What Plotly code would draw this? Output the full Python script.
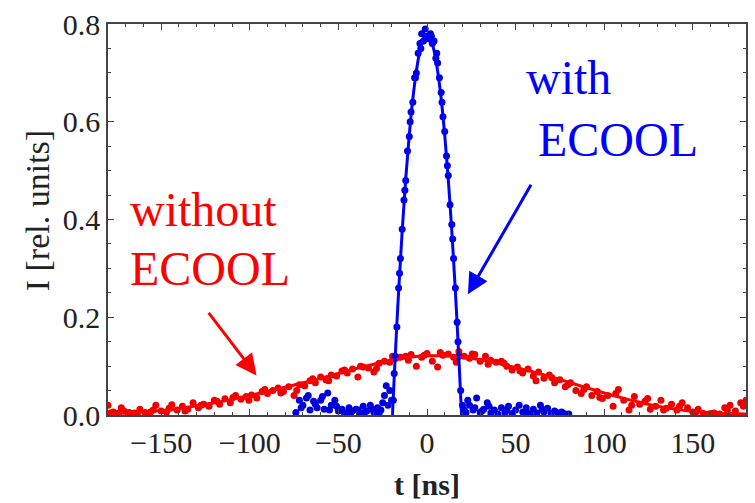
import plotly.graph_objects as go

# ---------------- data ----------------
# Red: without ECOOL (measured points, every 3 ns)
red_t = list(range(-180, 181, 3))
red_I = [0.020, 0.006, 0.004, 0.008, 0.005, 0.004, 0.012, 0.005, 0.006, 0.020,
         0.008, 0.006, 0.021, 0.010, 0.018, 0.012, 0.025, 0.015, 0.022, 0.018,
         0.030, 0.022, 0.033, 0.025, 0.040, 0.032, 0.038, 0.041, 0.035, 0.048,
         0.044, 0.050, 0.055, 0.048, 0.058, 0.040, 0.062, 0.060, 0.070, 0.066,
         0.078, 0.072, 0.082, 0.080, 0.090, 0.086, 0.094, 0.078, 0.098, 0.096,
         0.088, 0.106, 0.110, 0.108, 0.115, 0.118, 0.120, 0.124, 0.100, 0.118,
         0.126, 0.110, 0.098, 0.122, 0.125, 0.118, 0.130, 0.120, 0.116, 0.124,
         0.110, 0.120, 0.112, 0.108, 0.110, 0.100, 0.092, 0.098, 0.086, 0.094,
         0.080, 0.088, 0.075, 0.082, 0.066, 0.072, 0.058, 0.066, 0.050, 0.044,
         0.058, 0.040, 0.048, 0.034, 0.040, 0.018, 0.052, 0.030, 0.010, 0.038,
         0.022, 0.028, 0.012, 0.018, 0.030, 0.014, 0.022, 0.010, 0.025, 0.015,
         0.006, 0.012, 0.003, 0.002, 0.004, 0.002, 0.015, 0.020, 0.008, 0.025,
         0.030]

# Red: extra measured points (second sweep, offset by 1.5 ns)
red_t2 = [-178.5, -172.5, -163.5, -154.5, -145.5, -136.5, -127.5, -118.5, -109.5,
          -100.5, -91.5, -82.5, -73.5, -64.5, -55.5, -46.5, -37.5, -28.5, -19.5,
          -10.5, -1.5, 7.5, 16.5, 25.5, 34.5, 43.5, 52.5, 61.5, 70.5, 79.5, 88.5,
          97.5, 106.5, 115.5, 124.5, 133.5, 142.5, 151.5, 160.5, 169.5, 178.5]
red_I2 = [0.004, 0.015, 0.003, 0.010, 0.014, 0.008, 0.020, 0.028, 0.036,
          0.030, 0.052, 0.045, 0.050, 0.074, 0.070, 0.092, 0.100, 0.095, 0.120,
          0.112, 0.122, 0.128, 0.108, 0.125, 0.104, 0.106, 0.090, 0.070, 0.076,
          0.062, 0.052, 0.036, 0.044, 0.020, 0.034, 0.010, 0.018, 0.004, 0.003,
          0.010, 0.018]

# Red fit curve
red_fit_t = list(range(-180, 181, 10))
red_fit_I = [0.003, 0.004, 0.006, 0.009, 0.013, 0.019, 0.025, 0.032, 0.040, 0.048,
             0.057, 0.066, 0.075, 0.085, 0.095, 0.104, 0.112, 0.118, 0.121, 0.121,
             0.118, 0.113, 0.106, 0.097, 0.088, 0.078, 0.067, 0.056, 0.045, 0.035,
             0.026, 0.018, 0.012, 0.007, 0.004, 0.003, 0.002]

# Blue: with ECOOL (measured points)
blue_t = [-74, -72, -70, -68, -66, -64, -62, -60, -58, -56, -54, -52, -50, -48,
          -46, -44, -42, -40, -38, -36, -34, -32, -30, -28, -26, -24, -23, -22,
          -21, -20, -19, -18, -17, -16, -15, -14, -13, -12, -11, -10, -9, -8,
          -7, -6, -5, -4, -3, -2, -1, 0, 1, 2, 3, 4, 5, 6, 7, 8, 9, 10, 11,
          12, 13, 14, 15, 16, 17, 18, 19, 20, 21, 22, 24, 26, 28, 30, 32, 34,
          36, 38, 40, 42, 44, 46, 48, 50, 52, 54, 56, 58, 60, 62, 64, 66, 68,
          70, 72, 74, 76, 78, 80]
blue_I = [0.005, 0.030, 0.020, 0.035, 0.010, 0.028, 0.015, 0.030, 0.012, 0.045,
          0.020, 0.030, 0.008, 0.012, 0.005, 0.015, 0.008, 0.012, 0.004, 0.018,
          0.008, 0.020, 0.006, 0.015, 0.010, 0.040, 0.060, 0.020,
          0.050, 0.030, 0.030, 0.120, 0.180, 0.260, 0.320, 0.380, 0.440, 0.480,
          0.540, 0.570, 0.620, 0.640, 0.690, 0.700, 0.740, 0.760, 0.780, 0.765,
          0.790, 0.775, 0.770, 0.780, 0.760, 0.765, 0.730, 0.720, 0.690, 0.660,
          0.610, 0.580, 0.530, 0.490, 0.430, 0.390, 0.320, 0.260, 0.190, 0.120,
          0.050, 0.020, 0.010, 0.005, 0.020, 0.010, 0.035, 0.005, 0.012, 0.025,
          0.004, 0.010, 0.002, 0.015, 0.005, 0.018, 0.003, 0.010, 0.020, 0.006,
          0.015, 0.003, 0.012, 0.004, 0.020, 0.006, 0.014, 0.003, 0.008, 0.004,
          0.006, 0.002, 0.002]

# Blue: extra measured points (second sweep)
blue_t2 = [-71, -67, -63, -59, -55, -51, -47, -43, -39, -35, -31, -27, -25,
           -18.5, -15.5, -12.5, -9.5, -6.5, -3.5, -0.5, 2.5, 5.5, 8.5, 11.5, 14.5,
           17.5, 23, 27, 31, 35, 45, 55, 65]
blue_I2 = [0.015, 0.040, 0.022, 0.038, 0.010, 0.018, 0.006, 0.004, 0.010, 0.006,
           0.012, 0.004, 0.025,
           0.085, 0.290, 0.460, 0.600, 0.690, 0.750, 0.770, 0.775, 0.740, 0.640,
           0.510, 0.360, 0.150, 0.030, 0.015, 0.008, 0.018, 0.010, 0.004, 0.012]

# Blue fit curve
blue_fit_t = [-19.5, -18, -16, -14, -12, -10, -8, -6, -4, -2, 0,
              2, 4, 6, 8, 10, 12, 14, 16, 18, 19.5]
blue_fit_I = [0.0, 0.115, 0.254, 0.377, 0.483, 0.573, 0.647, 0.704, 0.745, 0.770, 0.778,
              0.770, 0.745, 0.704, 0.647, 0.573, 0.483, 0.377, 0.254, 0.115, 0.0]

x_ticks = [-150, -100, -50, 0, 50, 100, 150]
y_ticks = [0.0, 0.2, 0.4, 0.6, 0.8]

RED = "#ff0000"
BLUE = "#0000ff"
FONT = "Liberation Serif"
AXC = "#444444"

fig = go.Figure()
fig.add_trace(go.Scatter(x=red_t + red_t2, y=red_I + red_I2, mode="markers",
                         marker=dict(color="#ee0000", size=7), showlegend=False))
fig.add_trace(go.Scatter(x=blue_t + blue_t2, y=blue_I + blue_I2, mode="markers",
                         marker=dict(color="#0000dd", size=7), showlegend=False))
fig.add_trace(go.Scatter(x=red_fit_t, y=red_fit_I, mode="lines",
                         line=dict(color=RED, width=3, shape="spline"), showlegend=False))
fig.add_trace(go.Scatter(x=blue_fit_t, y=blue_fit_I, mode="lines",
                         line=dict(color=BLUE, width=3, shape="spline"), showlegend=False))

L, R, T, B = 108, 7, 20, 88
W, H = 755, 503
pw, ph = W - L - R, H - T - B

def px(x):
    return (x - L) / pw

def py(y):
    return (H - B - y) / ph

annots = [
    dict(text="with", x=px(525), y=py(74), color=BLUE),
    dict(text="ECOOL", x=px(537), y=py(137), color=BLUE),
    dict(text="without", x=px(128), y=py(207), color=RED),
    dict(text="ECOOL", x=px(128), y=py(267), color=RED),
]
for a in annots:
    fig.add_annotation(text=a["text"], x=a["x"], y=a["y"], xref="paper", yref="paper",
                       xanchor="left", yanchor="middle", showarrow=False,
                       font=dict(family=FONT, size=48, color=a["color"]))

# y-axis title as rotated text
fig.add_annotation(text="I [rel. units]", x=px(37), y=py(209), xref="paper", yref="paper",
                   xanchor="center", yanchor="middle", showarrow=False, textangle=-90,
                   font=dict(family=FONT, size=34, color="#222222"))

# arrows
fig.add_annotation(x=px(469), y=py(293), xref="paper", yref="paper", text="",
                   showarrow=True, ax=64, ay=-111, arrowcolor=BLUE, arrowwidth=3,
                   arrowhead=2, arrowsize=1.4, standoff=0)
fig.add_annotation(x=px(257), y=py(375), xref="paper", yref="paper", text="",
                   showarrow=True, ax=-49, ay=-64, arrowcolor=RED, arrowwidth=3,
                   arrowhead=2, arrowsize=1.4, standoff=0)

axis_common = dict(showline=True, linecolor=AXC, linewidth=1.5, mirror="ticks",
                   ticks="inside", ticklen=6, tickcolor=AXC, tickwidth=1,
                   showgrid=False, zeroline=False,
                   tickfont=dict(family=FONT, size=30, color="#222222"))

fig.update_xaxes(range=[-180, 180], tickvals=x_ticks,
                 minor=dict(dtick=10, ticks="inside", ticklen=3, tickcolor=AXC),
                 title=dict(text="<b>t [ns]</b>", font=dict(family=FONT, size=30, color="#222222"),
                            standoff=16),
                 **axis_common)
fig.update_yaxes(range=[0, 0.8], tickvals=y_ticks, tickformat=".1f",
                 minor=dict(dtick=0.05, ticks="inside", ticklen=3, tickcolor=AXC),
                 **axis_common)

fig.update_layout(width=W, height=H, margin=dict(l=L, r=R, t=T, b=B),
                  plot_bgcolor="white", paper_bgcolor="white", showlegend=False)

fig.write_html("out.html")
